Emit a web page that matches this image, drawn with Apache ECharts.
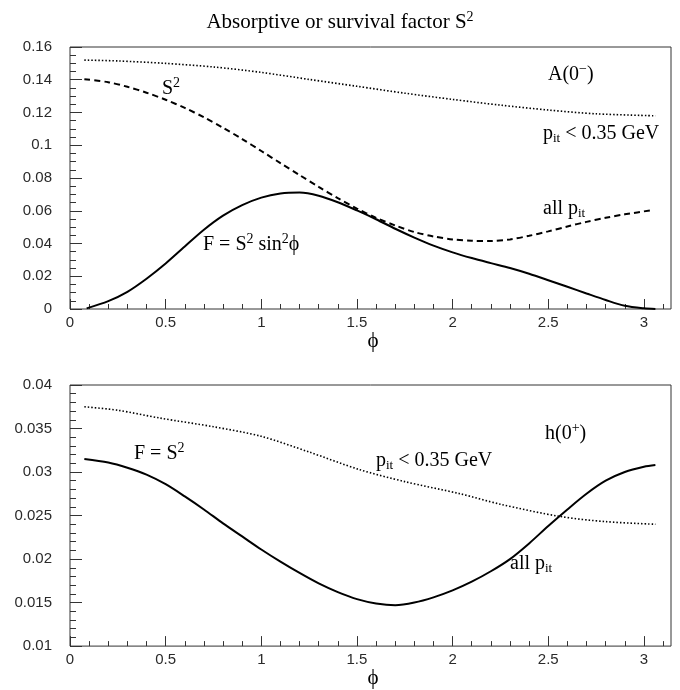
<!DOCTYPE html>
<html><head><meta charset="utf-8">
<script src="https://cdn.jsdelivr.net/npm/echarts@6/dist/echarts.min.js"></script>
<style>html,body{margin:0;padding:0;background:#fff}#c{width:680px;height:690px}</style>
</head><body><div id="c"></div><script>
// ---- data ----
const topLowPhi   = [0.075, 0.25, 0.5, 0.75, 1.0, 1.25, 1.5, 1.75, 2.0, 2.25, 2.5, 2.75, 3.06];
const topLowPt    = [0.1520, 0.1515, 0.1500, 0.1478, 0.1445, 0.1402, 0.1360, 0.1318, 0.1280, 0.1245, 0.1215, 0.1192, 0.1180];
const topAllPhi   = [0.075, 0.2, 0.3, 0.4, 0.5, 0.6, 0.7, 0.8, 0.9, 1.0, 1.1, 1.2, 1.3, 1.4, 1.5, 1.6, 1.7, 1.8, 1.9, 2.0, 2.1, 2.2, 2.3, 2.4, 2.5, 2.6, 2.7, 2.8, 2.9, 3.05];
const topAllPt    = [0.1403, 0.1385, 0.1357, 0.1321, 0.1278, 0.1228, 0.1171, 0.1107, 0.1038, 0.0965, 0.0891, 0.0818, 0.0746, 0.0677, 0.0613, 0.0557, 0.0510, 0.0470, 0.0443, 0.0425, 0.0417, 0.0415, 0.0425, 0.0447, 0.0474, 0.0504, 0.0532, 0.0557, 0.0578, 0.0605];
const topFPhi     = [0.087, 0.2, 0.3, 0.4, 0.5, 0.6, 0.7, 0.8, 0.9, 1.0, 1.1, 1.2, 1.3, 1.4, 1.5, 1.6, 1.7, 1.8, 1.9, 2.0, 2.1, 2.2, 2.3, 2.4, 2.5, 2.6, 2.7, 2.8, 2.9, 3.0, 3.06];
const topF        = [0.0004, 0.0048, 0.0105, 0.0185, 0.0278, 0.0382, 0.0484, 0.0570, 0.0634, 0.0680, 0.0705, 0.0711, 0.0692, 0.0652, 0.0602, 0.0548, 0.0490, 0.0436, 0.0387, 0.0346, 0.0311, 0.0280, 0.0250, 0.0215, 0.0176, 0.0136, 0.0095, 0.0055, 0.0020, 0.0004, 0.0];
const botLowPhi   = [0.075, 0.25, 0.47, 0.75, 1.0, 1.25, 1.51, 1.75, 2.04, 2.25, 2.56, 2.8, 3.06];
const botLowPt    = [0.0375, 0.0371, 0.0362, 0.0352, 0.0341, 0.0323, 0.0303, 0.0289, 0.0275, 0.0263, 0.0249, 0.0243, 0.0240];
const botAllPhi   = [0.075, 0.2, 0.3, 0.4, 0.5, 0.6, 0.7, 0.8, 0.9, 1.0, 1.1, 1.2, 1.3, 1.4, 1.5, 1.6, 1.7, 1.8, 1.9, 2.0, 2.1, 2.2, 2.3, 2.4, 2.5, 2.6, 2.7, 2.8, 2.9, 3.0, 3.06];
const botAllPt    = [0.0315, 0.0311, 0.0305, 0.0297, 0.0286, 0.0272, 0.0257, 0.0241, 0.0226, 0.0211, 0.0197, 0.0184, 0.0172, 0.0162, 0.0154, 0.0149, 0.0147, 0.0150, 0.0156, 0.0164, 0.0174, 0.0186, 0.0200, 0.0218, 0.0238, 0.0257, 0.0275, 0.0290, 0.0300, 0.0306, 0.0308];
const xMajorTicks = [0, 0.5, 1, 1.5, 2, 2.5, 3];
const xMinorTicks = [0.1,0.2,0.3,0.4,0.6,0.7,0.8,0.9,1.1,1.2,1.3,1.4,1.6,1.7,1.8,1.9,2.1,2.2,2.3,2.4,2.6,2.7,2.8,2.9,3.1];

const zip = (xs, ys) => xs.map((x, i) => [x, ys[i]]);
const serif = 'Liberation Serif';
const sans = 'Liberation Sans';

const rich = {
  n:   { fontFamily: serif, fontSize: 20, lineHeight: 24, fill: '#000' },
  t:   { fontFamily: serif, fontSize: 21, lineHeight: 24, fill: '#000' },
  sup: { fontFamily: serif, fontSize: 14, lineHeight: 14, verticalAlign: 'top', fill: '#000' },
  sub: { fontFamily: serif, fontSize: 13, lineHeight: 13, verticalAlign: 'bottom', fill: '#000' }
};
function label(x, baseline, text, align) {
  return { type: 'text', x: x, y: baseline - 18.5, silent: true,
    style: { text: text, rich: rich, fill: '#000', align: align || 'left', verticalAlign: 'top' } };
}

function xAxes(grid) {
  return [
    { gridIndex: grid, type: 'value', min: 0, max: Math.PI, position: 'bottom',
      axisLine: { show: false }, splitLine: { show: false },
      axisTick: { inside: true, length: 10, customValues: xMajorTicks, lineStyle: { color: '#333' } },
      axisLabel: { customValues: xMajorTicks, margin: 6, fontSize: 15, color: '#2a2a2a', fontFamily: sans },
      name: 'ϕ', nameLocation: 'middle', nameGap: 17,
      nameTextStyle: { fontFamily: serif, fontSize: 21, color: '#000', padding: [0, 0, 0, 5] } },
    { gridIndex: grid, type: 'value', min: 0, max: Math.PI, position: 'bottom',
      axisLine: { show: false }, splitLine: { show: false }, axisLabel: { show: false },
      axisTick: { inside: true, length: 5, customValues: xMinorTicks, lineStyle: { color: '#333' } } }
  ];
}
function yAxis(grid, min, max, interval, minorSplit) {
  return { gridIndex: grid, type: 'value', min: min, max: max, interval: interval,
    axisLine: { show: false }, splitLine: { show: false },
    axisTick: { inside: true, length: 12, lineStyle: { color: '#333' } },
    minorTick: { show: true, splitNumber: minorSplit, length: 6, lineStyle: { color: '#333' } },
    axisLabel: { margin: 18, fontSize: 15, color: '#2a2a2a', fontFamily: sans } };
}
function line(xi, yi, data, width, type) {
  return { type: 'line', xAxisIndex: xi, yAxisIndex: yi, data: data, showSymbol: false,
    smooth: 0.3, silent: true, lineStyle: { color: '#000', width: width, type: type } };
}

const chart = echarts.init(document.getElementById('c'), null, { renderer: 'canvas' });
chart.setOption({
  animation: false,
  backgroundColor: '#fff',
  grid: [
    { left: 70, top: 47, width: 601, height: 262, show: true, borderColor: '#333', borderWidth: 1 },
    { left: 70, top: 385, width: 601, height: 263, show: true, borderColor: '#333', borderWidth: 1 }
  ],
  xAxis: xAxes(0).concat(xAxes(1)),
  yAxis: [ yAxis(0, 0, 0.16, 0.02, 4), yAxis(1, 0.01, 0.04, 0.005, 5) ],
  series: [
    line(0, 0, zip(topLowPhi, topLowPt), 1.6, [1.5, 2]),
    line(0, 0, zip(topAllPhi, topAllPt), 2, [6, 4]),
    line(0, 0, zip(topFPhi, topF), 2, 'solid'),
    line(2, 1, zip(botLowPhi, botLowPt), 1.6, [1.5, 2]),
    line(2, 1, zip(botAllPhi, botAllPt), 2, 'solid')
  ],
  graphic: [
    label(340, 29, '{t|Absorptive or survival factor S}{sup|2}', 'center'),
    label(162, 95, '{n|S}{sup|2}'),
    label(203, 251, '{n|F = S}{sup|2}{n| sin}{sup|2}{n|ϕ}'),
    label(548, 81, '{n|A(0}{sup|−}{n|)}'),
    label(543, 140, '{n|p}{sub|it}{n| < 0.35 GeV}'),
    label(543, 215, '{n|all p}{sub|it}'),
    label(545, 440, '{n|h(0}{sup|+}{n|)}'),
    label(134, 460, '{n|F = S}{sup|2}'),
    label(376, 467, '{n|p}{sub|it}{n| < 0.35 GeV}'),
    label(510, 570, '{n|all p}{sub|it}')
  ]
});
</script></body></html>
